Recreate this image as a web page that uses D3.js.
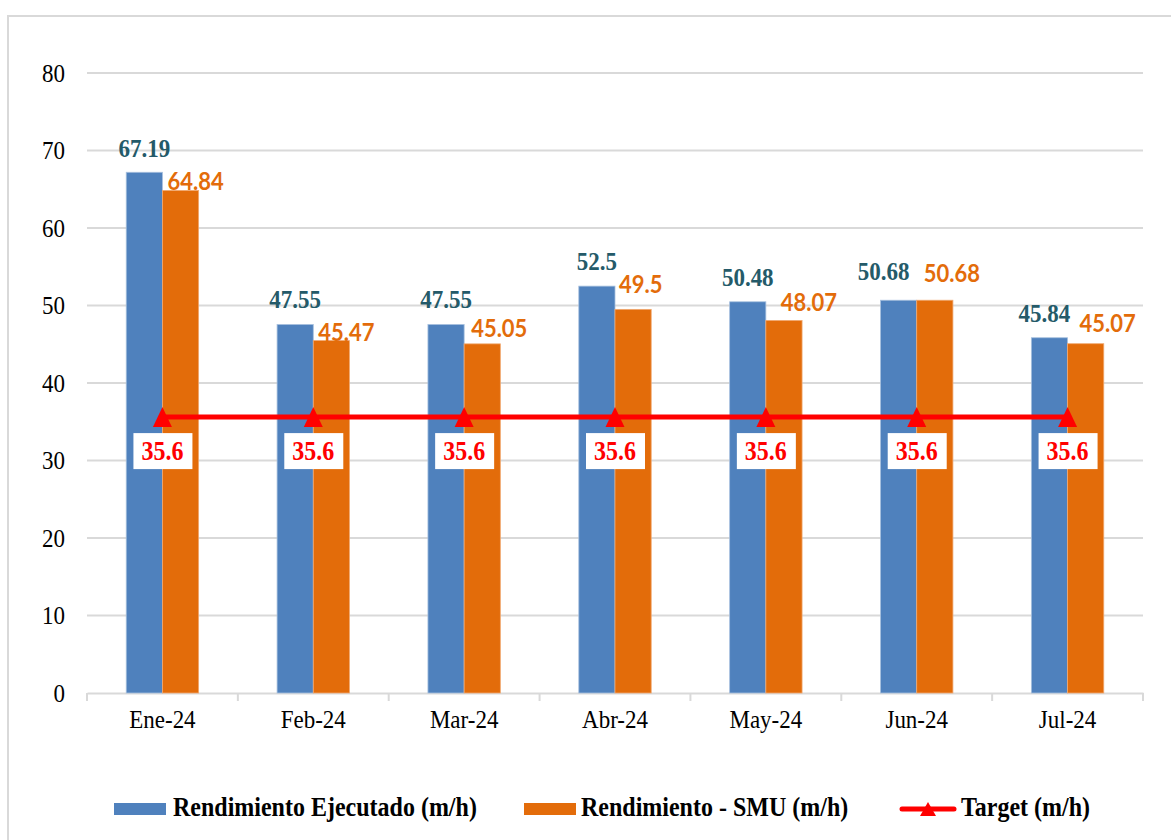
<!DOCTYPE html>
<html>
<head>
<meta charset="utf-8">
<script src="https://cdn.jsdelivr.net/npm/d3@7"></script>
<style>
  html, body { margin: 0; padding: 0; background: #fff; }
  svg { display: block; }
</style>
</head>
<body>
<svg id="chart" width="1171" height="840"></svg>
<script>
// Monthly performance data (m/h)
const months = ["Ene-24", "Feb-24", "Mar-24", "Abr-24", "May-24", "Jun-24", "Jul-24"];
const ejecutado = [67.19, 47.55, 47.55, 52.5, 50.48, 50.68, 45.84];
const smu = [64.84, 45.47, 45.05, 49.5, 48.07, 50.68, 45.07];
const target = [35.6, 35.6, 35.6, 35.6, 35.6, 35.6, 35.6];
const yTicks = [0, 10, 20, 30, 40, 50, 60, 70, 80];
const seriesNames = ["Rendimiento Ejecutado (m/h)", "Rendimiento - SMU (m/h)", "Target (m/h)"];

const colBlue = "#4F81BD", colOrange = "#E36C0A", colRed = "#FF0000";
const serif = "'Liberation Serif', 'Times New Roman', serif";
const sans = "Lato, 'Open Sans', sans-serif";

// hand-tuned label nudges [dx, dy] so the value labels sit clear of each other
const ejeNudge = [[0, 15], [0, 16], [0, 16], [0, 16], [0, 16], [-15, 20], [-5, 16]];
const smuNudge = [[5, 0], [5, 0], [7, 7], [4, 16], [15, 9], [7, 18], [12, 12]];

const svg = d3.select("#chart");

// outer frame
svg.append("rect").attr("x", 8).attr("y", 16).attr("width", 1180).attr("height", 840)
  .attr("fill", "#fff").attr("stroke", "#d9d9d9").attr("stroke-width", 2);

const plotL = 87, plotR = 1143, plotT = 73, plotB = 693;

const x = d3.scaleBand().domain(months).range([plotL, plotR]).paddingInner(0.52).paddingOuter(0.26);
const xCenter = d3.scaleBand().domain(months).range([plotL, plotR]);
const y = d3.scaleLinear().domain([0, 80]).range([plotB, plotT]);

// gridlines
svg.append("g").selectAll("line").data(yTicks.filter(d => d > 0)).join("line")
  .attr("x1", plotL).attr("x2", plotR)
  .attr("y1", d => y(d)).attr("y2", d => y(d))
  .attr("stroke", "#d9d9d9").attr("stroke-width", 2);

// y axis labels
const yAxis = svg.append("g").attr("transform", `translate(${plotL},0)`)
  .call(d3.axisLeft(y).tickValues(yTicks).tickSize(0).tickPadding(22));
yAxis.select(".domain").remove();
yAxis.selectAll("text").attr("font-family", serif).attr("font-size", 23).attr("fill", "#000");

// x axis
const xAxis = svg.append("g").attr("transform", `translate(0,${plotB})`)
  .call(d3.axisBottom(xCenter).tickSize(0).tickPadding(17));
xAxis.select(".domain").attr("stroke", "#d9d9d9").attr("stroke-width", 2);
xAxis.selectAll("text").attr("font-family", serif).attr("font-size", 23).attr("fill", "#000");
// category boundary ticks
svg.append("g").selectAll("line").data(d3.range(months.length + 1)).join("line")
  .attr("x1", i => plotL + i * xCenter.step()).attr("x2", i => plotL + i * xCenter.step())
  .attr("y1", plotB).attr("y2", plotB + 8)
  .attr("stroke", "#d9d9d9").attr("stroke-width", 2);

const bw = x.bandwidth() / 2;

// bars
svg.append("g").selectAll("rect").data(ejecutado).join("rect")
  .attr("x", (d, i) => x(months[i])).attr("width", bw)
  .attr("y", d => y(d)).attr("height", d => plotB - y(d))
  .attr("fill", colBlue).attr("stroke", "#a7c0de").attr("stroke-width", 0.8);
svg.append("g").selectAll("rect").data(smu).join("rect")
  .attr("x", (d, i) => x(months[i]) + bw).attr("width", bw)
  .attr("y", d => y(d)).attr("height", d => plotB - y(d))
  .attr("fill", colOrange).attr("stroke", "#f0a870").attr("stroke-width", 0.8);

// value labels
svg.append("g").selectAll("text").data(ejecutado).join("text")
  .attr("x", (d, i) => x(months[i]) + bw / 2 + ejeNudge[i][0])
  .attr("y", (d, i) => y(d) - ejeNudge[i][1])
  .attr("text-anchor", "middle")
  .attr("font-family", serif).attr("font-weight", "bold").attr("font-size", 23)
  .attr("fill", "#245A69")
  .text(d => d);
svg.append("g").selectAll("text").data(smu).join("text")
  .attr("x", (d, i) => x(months[i]) + bw + smuNudge[i][0])
  .attr("y", (d, i) => y(d) - smuNudge[i][1])
  .attr("text-anchor", "start")
  .attr("font-family", sans).attr("font-weight", "bold").attr("font-size", 22)
  .attr("fill", colOrange)
  .text(d => d);

// target line
const cx = m => xCenter(m) + xCenter.bandwidth() / 2;
svg.append("path")
  .datum(target)
  .attr("d", d3.line().x((d, i) => cx(months[i])).y(d => y(d)))
  .attr("fill", "none").attr("stroke", colRed).attr("stroke-width", 5);

// triangle marker: apex up, centred on the point
const triMarker = (w, h) => `M0,${-h / 2}L${w / 2},${h / 2}L${-w / 2},${h / 2}Z`;
svg.append("g").selectAll("path").data(target).join("path")
  .attr("transform", (d, i) => `translate(${cx(months[i])},${y(d)})`)
  .attr("d", triMarker(19, 20)).attr("fill", colRed);

// target labels in white boxes
const tl = svg.append("g").selectAll("g").data(target).join("g")
  .attr("transform", (d, i) => `translate(${cx(months[i])},${y(d) + 34})`);
tl.append("rect").attr("x", -29).attr("y", -18).attr("width", 59).attr("height", 36).attr("fill", "#fff");
tl.append("text").attr("text-anchor", "middle").attr("y", 9)
  .attr("font-family", serif).attr("font-weight", "bold").attr("font-size", 24)
  .attr("fill", colRed).text(d => d);

// legend
const leg = svg.append("g").attr("transform", "translate(0,809)");
leg.append("rect").attr("x", 114).attr("y", -6).attr("width", 52).attr("height", 12).attr("fill", colBlue);
leg.append("text").attr("x", 173).attr("y", 7).text(seriesNames[0]);
leg.append("rect").attr("x", 524).attr("y", -6).attr("width", 52).attr("height", 12).attr("fill", colOrange);
leg.append("text").attr("x", 581).attr("y", 7).text(seriesNames[1]);
leg.append("line").attr("x1", 902).attr("x2", 954).attr("y1", 0).attr("y2", 0)
  .attr("stroke", colRed).attr("stroke-width", 5).attr("stroke-linecap", "round");
leg.append("path").attr("transform", "translate(928,0)").attr("d", triMarker(16, 14)).attr("fill", colRed);
leg.append("text").attr("x", 961).attr("y", 7).text(seriesNames[2]);
leg.selectAll("text").attr("font-family", serif).attr("font-weight", "bold").attr("font-size", 24).attr("fill", "#000");

// the chart's type is set slightly tall: stretch every label vertically about its anchor
svg.selectAll("text").each(function () {
  const t = d3.select(this);
  const tx = +t.attr("x") || 0, ty = +t.attr("y") || 0;
  t.attr("x", 0).attr("y", 0).attr("transform", `translate(${tx},${ty}) scale(1,1.1)`);
});
</script>
</body>
</html>
